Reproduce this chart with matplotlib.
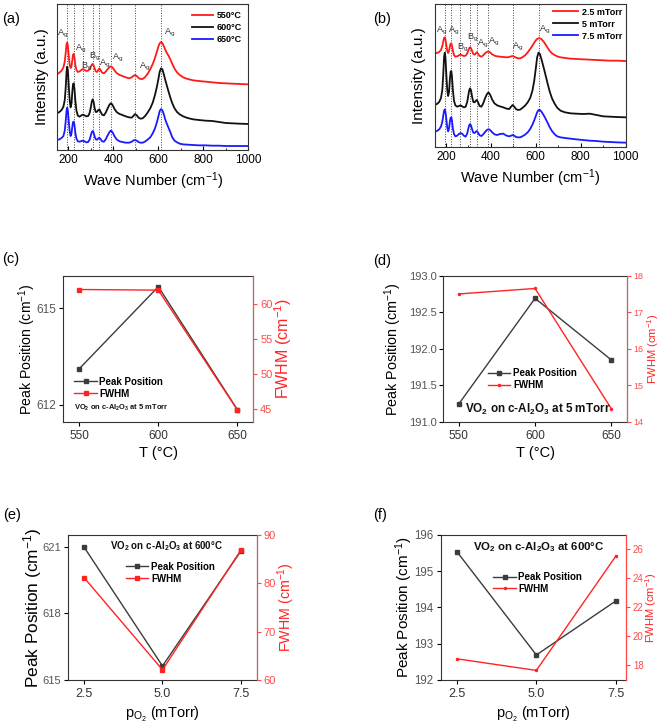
import matplotlib
matplotlib.use('Agg')
import matplotlib.pyplot as plt
from matplotlib.ticker import MultipleLocator, FormatStrFormatter, FixedLocator

plt.rcParams['font.family'] = ['Liberation Sans', 'DejaVu Sans']
plt.rcParams['mathtext.fontset'] = 'custom'
plt.rcParams['mathtext.rm'] = 'Liberation Sans'
plt.rcParams['mathtext.it'] = 'Liberation Sans:italic'
plt.rcParams['mathtext.bf'] = 'Liberation Sans:bold'

# ---------------- Raman spectra (a), (b) ----------------
wavenumber = [150,160,170,178,184,188,192,195,198,202,206,210,214,218,221,224,227,231,236,242,
              250,258,265,272,280,288,295,300,304,308,312,317,322,328,333,338,343,350,358,366,
              374,382,388,392,398,406,416,428,440,455,470,482,490,497,504,512,520,530,540,552,
              564,575,585,593,600,606,612,618,624,630,637,645,653,662,672,683,695,710,730,755,
              780,810,840,870,900,930,960,1000]

a_550 = [228,232,238,248,265,290,318,322,312,280,255,246,252,272,286,288,278,255,240,234,
         236,240,243,240,237,238,243,250,256,258,254,244,236,234,240,245,240,232,230,235,
         242,248,251,250,246,238,230,225,222,218,215,218,223,225,222,216,213,213,218,228,
         242,258,276,294,310,320,324,321,312,302,292,283,272,258,244,233,225,218,213,209,
         207,205,203,201,200,199,198,197]
a_600 = [110,114,120,130,150,185,235,250,238,190,148,128,140,178,198,200,185,148,118,103,
         100,104,106,104,101,102,112,128,145,152,145,125,114,115,120,122,115,106,104,112,
         124,135,140,139,133,122,113,108,105,101,98,97,103,108,104,97,94,95,101,112,
         125,142,165,188,212,235,245,242,228,212,195,176,158,140,125,114,107,101,96,92,
         90,88,87,84,81,80,79,78]
a_650 = [30,32,36,42,58,85,118,127,118,85,55,42,50,72,84,85,76,52,34,26,
         25,27,28,26,23,24,32,44,53,57,53,40,32,31,35,37,33,26,25,32,
         43,53,58,57,51,40,31,26,24,22,22,25,29,30,28,24,22,22,25,31,
         38,50,65,82,100,117,123,119,108,93,80,67,54,38,28,23,19,17,16,15,
         14,14,13,13,12,12,12,12]

b_25 = [280,281,284,290,302,315,326,328,322,303,287,281,287,302,309,310,303,288,275,270,
        271,274,276,274,272,273,280,289,296,298,295,286,278,276,280,283,279,272,270,274,
        280,284,286,285,282,277,273,271,270,269,268,269,271,272,270,267,265,265,268,274,
        283,293,303,312,319,323,325,325,323,319,313,305,296,287,280,275,271,268,266,264,
        263,262,261,260,259,258,258,257]
b_5 = [125,128,134,146,170,215,270,282,268,215,170,152,165,205,225,227,210,170,138,124,
       120,122,124,121,118,120,135,155,170,175,168,148,134,133,138,140,133,122,120,130,
       145,157,162,161,154,141,130,124,121,118,114,113,120,125,120,113,110,111,116,123,
       133,146,168,198,235,268,282,278,265,250,232,210,188,165,145,130,117,108,103,100,
       99,98,99,95,91,90,89,88]
b_75 = [45,47,52,60,75,92,108,112,105,82,57,46,55,77,87,88,78,55,38,31,
        33,38,41,39,33,30,40,55,65,68,63,51,42,41,45,47,42,34,32,37,
        44,50,52,52,49,43,37,35,38,39,33,31,33,35,33,29,28,28,31,36,
        43,53,66,79,92,103,110,110,106,100,92,82,71,58,47,38,31,28,26,24,
        22,20,18,17,15,14,13,12]

raman_modes = [194, 224, 263, 308, 338, 388, 498, 614]
labels_a = ['550°C', '600°C', '650°C']
labels_b = ['2.5 mTorr', '5 mTorr', '7.5 mTorr']
mode_labels = ['A$_\\mathrm{g}$', 'A$_\\mathrm{g}$', 'B$_\\mathrm{g}$', 'B$_\\mathrm{g}$',
               'A$_\\mathrm{g}$', 'A$_\\mathrm{g}$', 'A$_\\mathrm{g}$', 'A$_\\mathrm{g}$']
label_pos_a = [(151, 330), (228, 285), (256, 230), (290, 262), (336, 240), (392, 258), (512, 230), (626, 332)]
label_pos_b = [(156, 330), (208, 328), (250, 278), (292, 307), (339, 290), (387, 295), (494, 280), (615, 332)]

# ---------------- Peak analysis (c)-(f) ----------------
temps = [550, 600, 650]
c_peak = [613.12, 615.67, 611.85]
c_fwhm = [61.99, 61.90, 44.86]
d_peak = [191.24, 192.69, 191.845]
d_fwhm = [17.50, 17.65, 14.35]

pressures = [2.5, 5.0, 7.5]
e_peak = [620.98, 615.63, 620.80]
e_fwhm = [81.2, 62.1, 86.9]
f_peak = [195.54, 192.69, 194.18]
f_fwhm = [18.46, 17.66, 25.54]

RED = '#ff2424'
RED_T = '#ff4a4a'
GRAY = '#3c3c3c'
TICKGRAY = '#555555'

fig = plt.figure(figsize=(6.61, 7.24), dpi=100)


def spectra(rect, curves, labels, annpos, ylim, hl, bap):
    ax = fig.add_axes(rect)
    for m in raman_modes:
        ax.axvline(m, color='#444444', ls=(0, (1, 1.6)), lw=0.7, zorder=0)
    for y, lab, c in zip(curves, labels, ['#ff1a1a', '#111111', '#1a1aff']):
        ax.plot(wavenumber, y, color=c, lw=1.3, label=lab)
    for t, (x, y) in zip(mode_labels, annpos):
        ax.text(x, y, t, ha='left', va='bottom', fontsize=6.6, color='#333333')
    ax.set_xlim(150, 1000)
    ax.set_ylim(*ylim)
    ax.set_yticks([])
    ax.xaxis.set_major_locator(MultipleLocator(200))
    ax.xaxis.set_minor_locator(MultipleLocator(100))
    ax.tick_params(axis='x', which='major', direction='in', length=3, labelsize=8.5, pad=3)
    ax.tick_params(axis='x', which='minor', direction='in', length=1.8)
    ax.set_xlabel('Wave Number (cm$^{-1}$)', fontsize=10.5, labelpad=3)
    ax.set_ylabel('Intensity (a.u.)', fontsize=11, labelpad=6)
    for s in ax.spines.values():
        s.set_color('#333333')
        s.set_linewidth(0.8)
    ax.legend(loc='upper right', frameon=False, prop={'weight': 'bold', 'size': 6.5},
              handlelength=hl, handletextpad=0.4, labelspacing=0.33, borderaxespad=bap,
              borderpad=0.2)
    return ax


spectra([0.0864, 0.7928, 0.2893, 0.2017], [a_550, a_600, a_650], labels_a, label_pos_a, (0, 438), 2.3, 0.55)
spectra([0.6576, 0.7974, 0.2890, 0.1971], [b_25, b_5, b_75], labels_b, label_pos_b, (0, 428), 2.8, 0.2)


def dual(rect, x, peak, fwhm, xlim, xticks, xfmt, xlabel, ylim1, yt1, yfmt1, ylim2, yt2,
         fmark, fms, fs_l, fs_r, fs_tl, fs_tr, fs_tx, leg_xy, hl, htp, ann, ann_xy, ann_fs, ann_ha,
         lab_l, lab_r, rpad=2):
    ax = fig.add_axes(rect)
    ax2 = ax.twinx()
    l1, = ax.plot(x, peak, color=GRAY, lw=1.0, marker='s', ms=3, label='Peak Position')
    l2, = ax2.plot(x, fwhm, color=RED, lw=1.0, marker=fmark, ms=fms, label='FWHM')
    ax.set_xlim(*xlim)
    ax.set_ylim(*ylim1)
    ax2.set_ylim(*ylim2)
    ax.xaxis.set_major_locator(FixedLocator(xticks))
    ax.xaxis.set_major_formatter(FormatStrFormatter(xfmt))
    ax.yaxis.set_major_locator(FixedLocator(yt1))
    ax.yaxis.set_major_formatter(FormatStrFormatter(yfmt1))
    ax2.yaxis.set_major_locator(FixedLocator(yt2))
    ax.tick_params(axis='x', direction='out', length=3, labelsize=fs_tx, labelcolor='#333333', pad=3)
    ax.tick_params(axis='y', direction='out', length=3, labelsize=fs_tl, labelcolor=TICKGRAY, pad=2)
    ax2.tick_params(axis='y', direction='out', length=3, labelsize=fs_tr, colors=RED_T, pad=rpad)
    for s in ['left', 'top', 'bottom']:
        ax.spines[s].set_color('#333333')
        ax.spines[s].set_linewidth(0.8)
    ax2.spines['right'].set_color(RED_T)
    ax2.spines['right'].set_linewidth(0.8)
    for s in ['left', 'top', 'bottom']:
        ax2.spines[s].set_visible(False)
    ax.set_xlabel(xlabel, fontsize=10.5, labelpad=3)
    ax.set_ylabel('Peak Position (cm$^{-1}$)', fontsize=fs_l)
    ax.yaxis.set_label_coords(lab_l, 0.5)
    ax2.set_ylabel('FWHM (cm$^{-1}$)', fontsize=fs_r, color=RED)
    ax2.yaxis.set_label_coords(lab_r, 0.5)
    ax2.legend([l1, l2], ['Peak Position', 'FWHM'], loc='upper left', bbox_to_anchor=leg_xy,
               frameon=False, prop={'weight': 'bold', 'size': 7}, handlelength=hl,
               handletextpad=htp, labelspacing=0.2, borderpad=0, borderaxespad=0)
    ax2.text(ann_xy[0], ann_xy[1], ann, transform=ax2.transAxes, ha=ann_ha, va='center',
             fontsize=ann_fs, fontweight='bold', color='#111111')
    return ax, ax2


ann_5 = 'VO$_\\mathbf{2}$ on c-Al$_\\mathbf{2}$O$_\\mathbf{3}$ at 5 mTorr'
ann_600 = 'VO$_\\mathbf{2}$ on c-Al$_\\mathbf{2}$O$_\\mathbf{3}$ at 600°C'
plabel = 'p$_\\mathrm{O_2}$ (mTorr)'

dual([0.0958, 0.4175, 0.2874, 0.2012], temps, c_peak, c_fwhm, (540, 660), temps, '%d', 'T (°C)',
     (611.48, 616.0), [612, 615], '%d', (43.2, 63.9), [45, 50, 55, 60],
     's', 3, 10.2, 11.5, 8.5, 8, 8.5, (0.056, 0.31), 2.4, 0.2, ann_5, (0.056, 0.094), 5.4, 'left',
     -0.135, 1.098)

dual([0.6707, 0.4175, 0.2775, 0.2017], temps, d_peak, d_fwhm, (540, 660), temps, '%d', 'T (°C)',
     (191.0, 193.0), [191.0, 191.5, 192.0, 192.5, 193.0], '%.1f', (14, 18), [14, 15, 16, 17, 18],
     '.', 3, 10.4, 8, 8, 6.5, 8.5, (0.244, 0.365), 2.3, 0.3, ann_5, (0.118, 0.087), 8.4, 'left',
     -0.215, 1.10)

dual([0.1033, 0.0608, 0.2850, 0.2003], pressures, e_peak, e_fwhm, (2.0, 8.0), pressures, '%.1f', plabel,
     (615.0, 621.52), [615, 618, 621], '%d', (60, 90), [60, 70, 80, 90],
     's', 3, 12.4, 10.3, 8, 8, 9, (0.306, 0.815), 2.3, 0.3, ann_600, (0.524, 0.924), 7, 'center',
     -0.13, 1.102)

dual([0.6667, 0.0608, 0.2803, 0.2003], pressures, f_peak, f_fwhm, (1.99, 7.82), pressures, '%.1f', plabel,
     (192, 196), [192, 193, 194, 195, 196], '%d', (17, 27), [18, 20, 22, 24, 26],
     '.', 3, 11, 8.0, 8.3, 7, 9, (0.282, 0.745), 2.4, 0.2, ann_600, (0.531, 0.917), 8.2, 'center',
     -0.139, 1.093, rpad=2)

for t, x, y in [('(a)', 2, 19), ('(b)', 373, 19), ('(c)', 2, 259), ('(d)', 373, 261), ('(e)', 3, 515), ('(f)', 373, 515)]:
    fig.text(x / 661, 1 - y / 724, t, fontsize=10.5, ha='left', va='center')

fig.savefig('out.png', dpi=100)
